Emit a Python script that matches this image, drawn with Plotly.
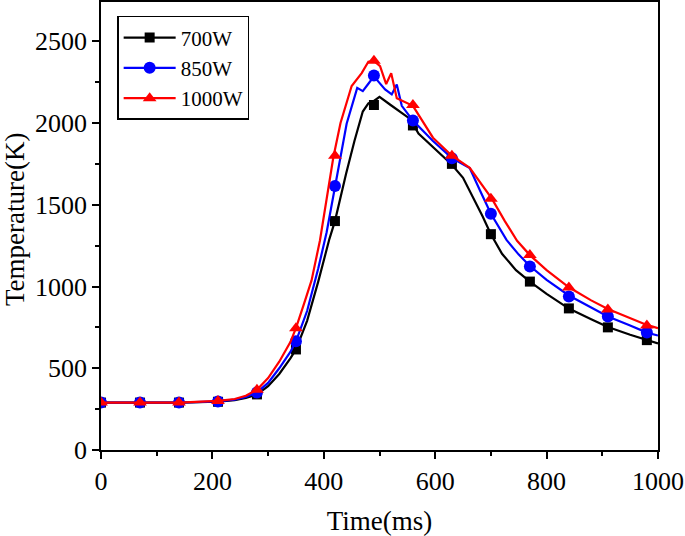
import plotly.graph_objects as go

# Marker samples (every 70 ms)
t_mk = [0, 70, 140, 210, 280, 350, 420, 490, 560, 630, 700, 770, 840, 910, 980]
T700_mk = [290, 290, 290, 295, 340, 615, 1400, 2110, 1985, 1750, 1320, 1030, 866, 750, 672]
T850_mk = [290, 290, 290, 297, 352, 665, 1615, 2290, 2015, 1785, 1445, 1122, 939, 817, 718]
T1000_mk = [290, 290, 290, 300, 368, 745, 1800, 2380, 2110, 1800, 1536, 1192, 994, 860, 762]

# Continuous curves
t700 = [0, 70, 140, 210, 240, 260, 280, 300, 320, 340, 350, 370, 390, 410, 420, 440, 455, 470, 480,
        490, 500, 520, 540, 555, 570, 600, 630, 650, 668, 685, 700, 720, 745, 770, 800, 840, 880, 910,
        950, 980, 1000]
T700 = [290, 290, 290, 295, 305, 318, 340, 390, 465, 560, 615, 790, 1030, 1290, 1400, 1690, 1890, 2070,
        2120, 2135, 2160, 2110, 2060, 2025, 1935, 1840, 1745, 1665, 1545, 1430, 1320, 1200, 1100, 1030,
        955, 865, 800, 752, 705, 672, 652]

t850 = [0, 70, 140, 210, 240, 260, 280, 300, 320, 340, 350, 370, 390, 405, 420, 441, 460, 470, 480,
        490, 510, 522, 531, 540, 560, 596, 630, 662, 680, 700, 728, 750, 770, 800, 840, 880, 910, 950,
        980, 1000]
T850 = [290, 290, 290, 297, 308, 325, 352, 410, 500, 600, 665, 850, 1110, 1330, 1615, 1995, 2215, 2195,
        2240, 2285, 2205, 2175, 2235, 2105, 2015, 1890, 1785, 1725, 1590, 1445, 1285, 1195, 1125, 1040,
        945, 870, 817, 762, 718, 700]

t1000 = [0, 70, 140, 210, 240, 260, 280, 300, 320, 340, 350, 365, 378, 393, 417, 430, 450, 468, 480,
         490, 501, 512, 521, 531, 560, 596, 630, 662, 680, 702, 725, 747, 770, 800, 840, 880, 910, 950,
         980, 1000]
T1000 = [290, 290, 290, 300, 312, 332, 368, 440, 540, 660, 745, 900, 1037, 1280, 1787, 2000, 2226, 2305,
         2375, 2380, 2348, 2238, 2305, 2152, 2105, 1910, 1800, 1726, 1640, 1536, 1400, 1280, 1192, 1100,
         995, 915, 862, 805, 765, 745]

names = ["700W", "850W", "1000W"]
colors = ["#000000", "#0000FF", "#FF0000"]
symbols = ["square", "circle", "triangle-up"]
msizes = [10, 12, 12]
lines = [(t700, T700), (t850, T850), (t1000, T1000)]
marks = [T700_mk, T850_mk, T1000_mk]

fig = go.Figure()
for name, c, s, ms, (tl, Tl), Tm in zip(names, colors, symbols, msizes, lines, marks):
    fig.add_trace(go.Scatter(x=tl, y=Tl, mode="lines", line=dict(color=c, width=2.2),
                             showlegend=False, hoverinfo="skip"))
    fig.add_trace(go.Scatter(x=t_mk, y=Tm, mode="markers",
                             marker=dict(color=c, symbol=s, size=ms),
                             showlegend=False, name=name))
    fig.add_trace(go.Scatter(x=[None], y=[None], mode="lines+markers", name=name,
                             line=dict(color=c, width=2.2),
                             marker=dict(color=c, symbol=s, size=ms)))

font = "Times New Roman, Liberation Serif, serif"
axis_common = dict(showline=True, linecolor="black", linewidth=1.5, mirror=True,
                   ticks="outside", tickcolor="black", tickwidth=1.5, ticklen=7,
                   showgrid=False, zeroline=False, automargin=False,
                   tickfont=dict(family=font, size=26, color="black"))

fig.update_layout(
    width=685, height=536,
    margin=dict(l=101, r=27, t=2, b=86),
    paper_bgcolor="white", plot_bgcolor="white",
    font=dict(family=font, size=26, color="black"),
    legend=dict(x=0.029, y=0.969, xanchor="left", yanchor="top",
                bordercolor="black", borderwidth=1.5, bgcolor="white",
                font=dict(family=font, size=21, color="black"),
                tracegroupgap=0, itemwidth=52),
    annotations=[dict(text="Temperature(K)", xref="paper", yref="paper",
                      x=-0.153, y=0.515, xanchor="center", yanchor="middle",
                      textangle=-90, showarrow=False,
                      font=dict(family=font, size=27, color="black"))],
)
fig.update_xaxes(range=[0, 1000], dtick=200, **axis_common,
                 minor=dict(ticks="outside", dtick=100, ticklen=4, tickwidth=1.5, tickcolor="black"),
                 title=dict(text="Time(ms)", font=dict(family=font, size=27), standoff=16))
fig.update_yaxes(range=[0, 2740], dtick=500, **axis_common,
                 minor=dict(ticks="outside", dtick=250, ticklen=4, tickwidth=1.5, tickcolor="black"))

fig.write_html("out.html", post_script="document.body.style.margin='0px';",
               config={"displayModeBar": False})
